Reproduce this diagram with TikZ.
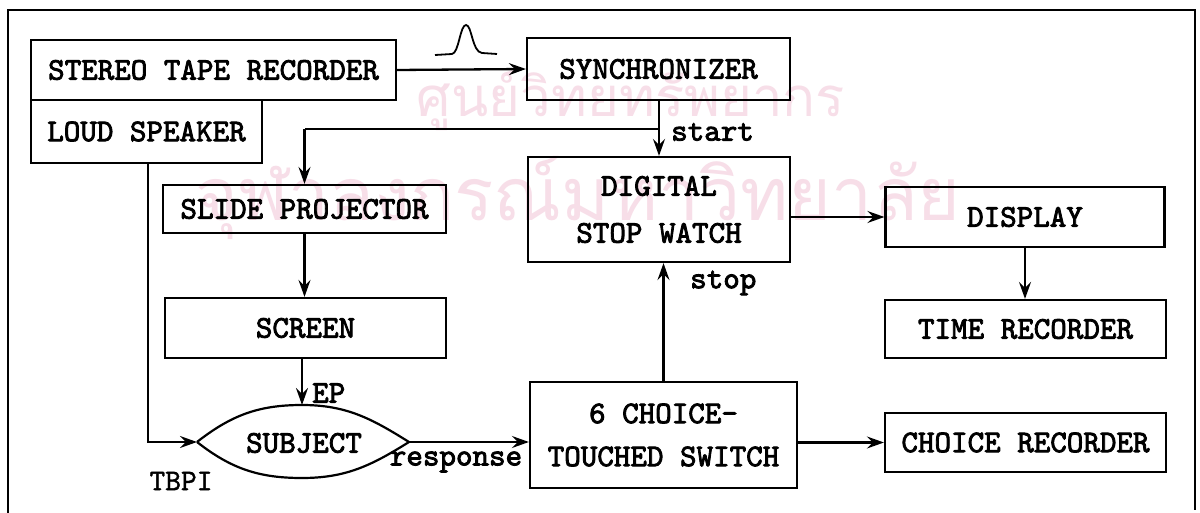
\documentclass[tikz,border=0pt]{standalone}
\usepackage{fontspec}
\usepackage{graphicx}
\newfontfamily\thaifont[Script=Thai]{Loma}
\newfontfamily\tw{lmmono10-regular.otf}[FakeBold=2.6]
\newfontfamily\twl{lmmono10-regular.otf}[FakeBold=1.2]
\usetikzlibrary{arrows.meta,calc}
\definecolor{wm}{RGB}{247,222,232}
\tikzset{
  box/.style={draw, line width=2.2pt, inner sep=0pt, font=\tw\fontsize{31.5}{47}\selectfont, align=center},
  arr/.style={line width=2.3pt, -{Stealth[length=17pt,width=12pt,inset=6pt]}},
  wire/.style={line width=2.3pt},
  lbl/.style={font=\tw\fontsize{31.5}{36}\selectfont, inner sep=0pt},
  wmtext/.style={text=wm, inner sep=0pt}
}
\begin{document}
\begin{tikzpicture}[x=1pt,y=-1pt]
\useasboundingbox (0,0) rectangle (1200,513);
\fill[white] (0,0) rectangle (1200,513);
% watermark
\node[wmtext] (wm1) at (631,100) {\resizebox{428pt}{!}{\thaifont ศูนย์วิทยทรัพยากร}};
\node[wmtext] (wm2) at (578,198) {\resizebox{765pt}{!}{\thaifont จุฬาลงกรณ์มหาวิทยาลัย}};
% frame
\draw[line width=2.8pt] (8,513) -- (8,10) -- (1195,10) -- (1195,510);
% boxes
\node[box, minimum width=365pt, minimum height=60pt] (stereo) at (213.5,70) {STEREO TAPE RECORDER};
\node[box, minimum width=231pt, minimum height=63pt] (loud) at (146.5,131.5) {LOUD SPEAKER};
\node[box, minimum width=263pt, minimum height=62pt] (sync) at (658.5,69) {SYNCHRONIZER};
\node[box, minimum width=283pt, minimum height=48pt] (slide) at (304.5,209) {SLIDE PROJECTOR};
\node[box, minimum width=281pt, minimum height=60pt] (screen) at (305.5,328) {SCREEN};
\node[box, minimum width=262pt, minimum height=105pt] (watch) at (659,209.5) {DIGITAL\\STOP WATCH};
\node[box, minimum width=279pt, minimum height=60pt] (display) at (1025,217) {DISPLAY};
\node[box, minimum width=281pt, minimum height=58pt] (time) at (1025.5,329) {TIME RECORDER};
\node[box, minimum width=267pt, minimum height=106pt, font=\tw\fontsize{31.5}{43}\selectfont] (switch) at (663.5,435) {6 CHOICE-\\TOUCHED SWITCH};
\node[box, minimum width=281pt, minimum height=59pt] (choice) at (1025.5,442.5) {CHOICE RECORDER};
% subject lens
\coordinate (subjL) at (197,442);
\coordinate (subjR) at (409,442);
\coordinate (subjT) at (302,405);
\coordinate (subjB) at (302,478);
\draw[line width=2.2pt] (subjL) to[out=38,in=180] (subjT) to[out=0,in=148] (subjR) to[out=212,in=0] (subjB) to[out=180,in=-38] (subjL);
\node[lbl] (subj) at (304,443) {SUBJECT};
% pulse symbol
\draw[line width=1.8pt] (435,55) -- (452,54) .. controls (459,53) and (460,25) .. (466,25) .. controls (472,25) and (472,52) .. (482,53) -- (497,54);
% connectors
\draw[arr] (stereo.east) -- (sync.west);
\draw[arr] (sync.south -| watch.north) -- (watch.north);
\coordinate (junc) at ($(watch.north)+(0,-27)$);
\draw[wire] (junc) -- (junc -| slide.north);
\draw[arr] (junc -| slide.north) -- (slide.north);
\draw[arr] (slide.south) -- (slide.south |- screen.north);
\draw[arr] (screen.south -| subjT) -- (subjT);
\coordinate (lsdown) at (148,163);
\draw[arr] (lsdown) |- (subjL);
\draw[arr] (subjR) -- (subjR -| switch.west);
\draw[arr] (switch.north) -- (switch.north |- watch.south);
\draw[arr] (watch.east |- display.west) -- (display.west);
\draw[arr] (display.south) -- (display.south |- time.north);
\draw[arr] (switch.east |- choice.west) -- (choice.west);
% labels
\node[lbl, anchor=west] (lstart) at (671,132) {start};
\node[lbl, anchor=west] (lstop) at (690,283) {stop};
\node[lbl, anchor=west] (lep) at (312,393) {EP};
\node[lbl, font=\twl\fontsize{30}{34}\selectfont] (ltbpi) at (181,481) {TBPI};
\node[lbl] (lresp) at (456,462) {response};
\end{tikzpicture}
\end{document}
